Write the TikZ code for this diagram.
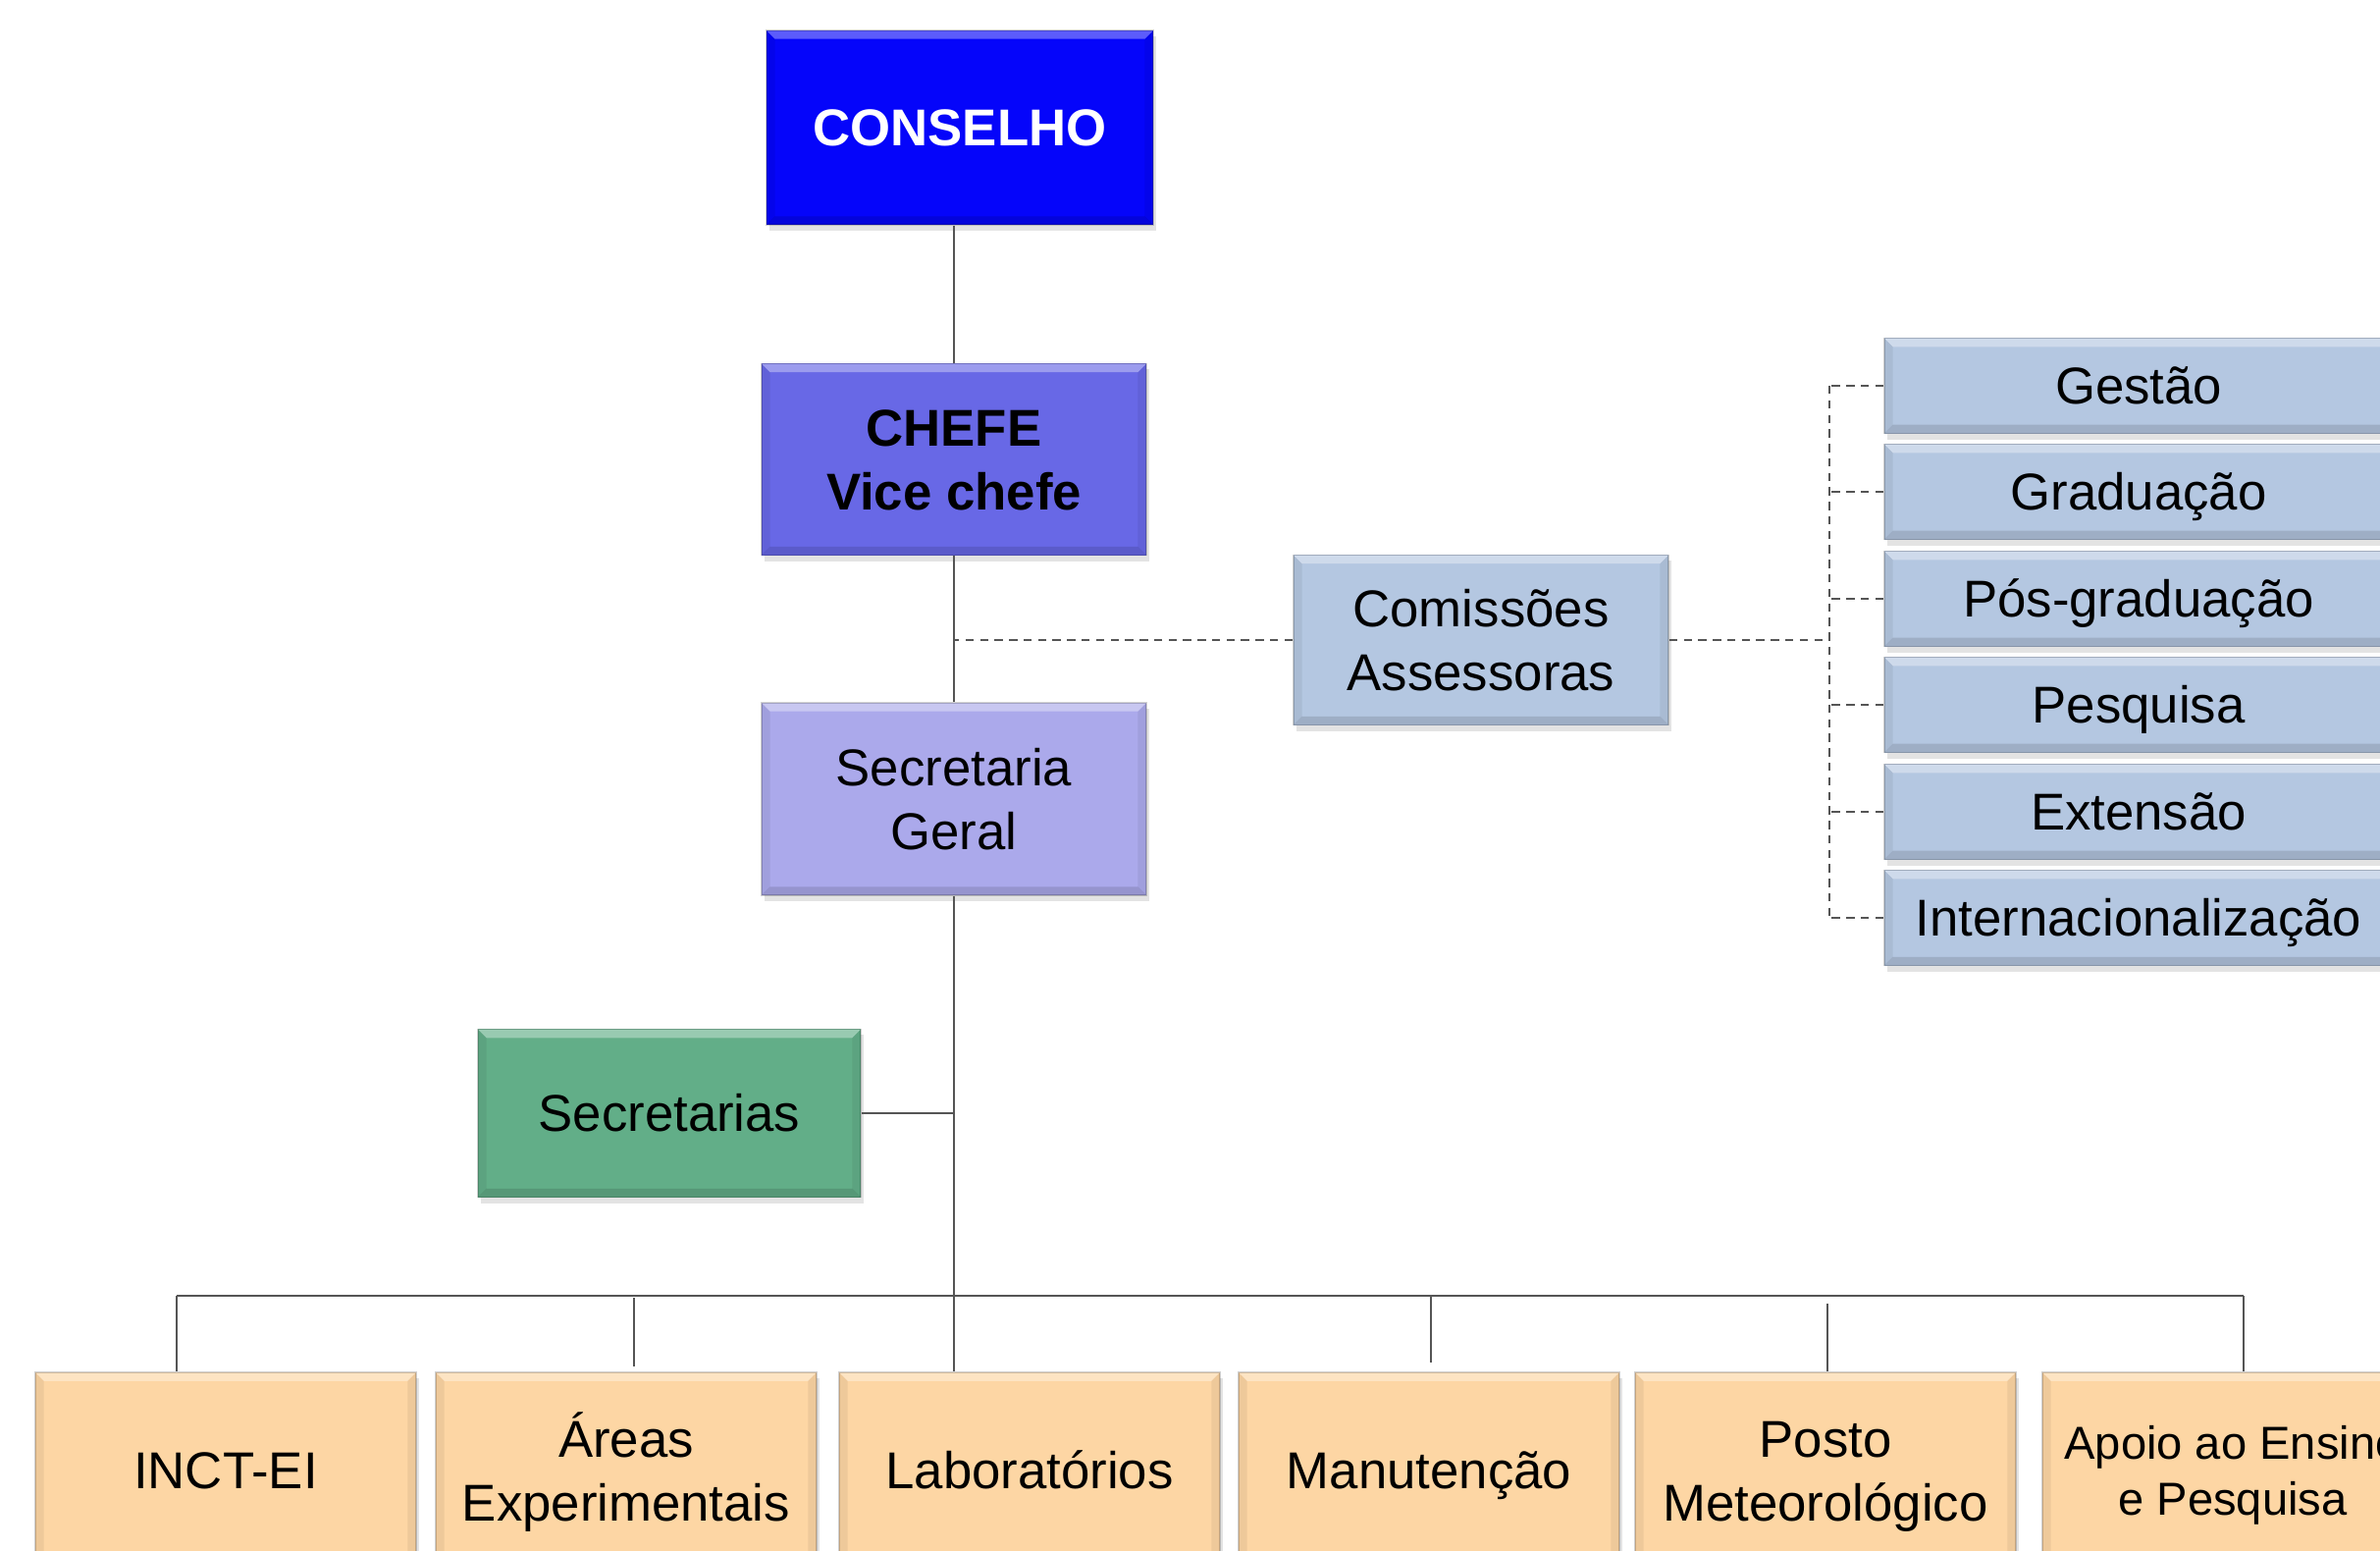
\documentclass[tikz,border=0pt]{standalone}
\usepackage{fontspec}
\setmainfont{Liberation Sans}
\usetikzlibrary{shadows}
\definecolor{cCons}{RGB}{5,5,250}
\definecolor{cChefe}{RGB}{104,104,230}
\definecolor{cSG}{RGB}{171,169,235}
\definecolor{cCom}{RGB}{180,199,225}
\definecolor{cSecs}{RGB}{98,174,136}
\definecolor{cBot}{RGB}{253,214,164}
\definecolor{cLine}{RGB}{85,85,85}
\newcommand\tl[1]{\rule{0pt}{0.716em}\smash{#1}}
\tikzset{
  box/.style={rectangle, inner sep=0pt, align=center,
    font=\fontsize{15}{18.5}\selectfont, text=black,
    draw=black, draw opacity=0.18, line width=0.4pt,
    drop shadow={opacity=0.22, shadow xshift=0.03cm, shadow yshift=-0.06cm},
    path picture={
      \fill[white,opacity=0.35] (path picture bounding box.north west) -- (path picture bounding box.north east)
        -- ([xshift=-2.5pt,yshift=-2.5pt]path picture bounding box.north east)
        -- ([xshift=2.5pt,yshift=-2.5pt]path picture bounding box.north west) -- cycle;
      \fill[black,opacity=0.12] (path picture bounding box.south west) -- (path picture bounding box.south east)
        -- ([xshift=-2.5pt,yshift=2.5pt]path picture bounding box.south east)
        -- ([xshift=2.5pt,yshift=2.5pt]path picture bounding box.south west) -- cycle;
      \fill[black,opacity=0.06] (path picture bounding box.north west) -- ([xshift=2.5pt,yshift=-2.5pt]path picture bounding box.north west)
        -- ([xshift=2.5pt,yshift=2.5pt]path picture bounding box.south west) -- (path picture bounding box.south west) -- cycle;
      \fill[black,opacity=0.06] (path picture bounding box.north east) -- ([xshift=-2.5pt,yshift=-2.5pt]path picture bounding box.north east)
        -- ([xshift=-2.5pt,yshift=2.5pt]path picture bounding box.south east) -- (path picture bounding box.south east) -- cycle;
    }},
  comm/.style={box, fill=cCom, minimum width=5.18cm, minimum height=0.97cm},
  unit/.style={box, fill=cBot, minimum width=3.88cm, minimum height=2.00cm},
  link/.style={draw=cLine, line width=0.6pt},
  dlink/.style={draw=cLine, line width=0.6pt, dash pattern=on 2.4pt off 1.8pt},
}
\begin{document}
\begin{tikzpicture}[x=0.01cm, y=-0.01cm]
\useasboundingbox (0,0) rectangle (2425,1579);
\clip (0,0) rectangle (2425,1579);

% main chain
\node[box, fill=cCons, minimum width=3.94cm, minimum height=1.98cm, text=white, font=\fontsize{15}{18.5}\selectfont\bfseries] (cons) at (978,130) {\tl{CONSELHO}};
\node[box, fill=cChefe, minimum width=3.92cm, minimum height=1.95cm, font=\fontsize{15}{18.5}\selectfont\bfseries] (chefe) at (972,468) {\tl{CHEFE}\\\tl{Vice chefe}};
\node[box, fill=cSG, minimum width=3.92cm, minimum height=1.96cm] (sg) at (972,814) {\tl{Secretaria}\\\tl{Geral}};
\node[box, fill=cCom, minimum width=3.82cm, minimum height=1.73cm] (com) at (1509,652) {\tl{Comissões}\\\tl{Assessoras}};
\node[box, fill=cSecs, minimum width=3.90cm, minimum height=1.71cm] (secs) at (682,1134) {\tl{Secretarias}};

% commissions
\node[comm] (g1) at (2179,393) {\tl{Gestão}};
\node[comm] (g2) at (2179,501) {\tl{Graduação}};
\node[comm] (g3) at (2179,610) {\tl{Pós-graduação}};
\node[comm] (g4) at (2179,718) {\tl{Pesquisa}};
\node[comm] (g5) at (2179,827) {\tl{Extensão}};
\node[comm] (g6) at (2179,935) {\tl{Internacionalização}};

% bottom units
\node[unit] (inct) at (230,1498) {\tl{INCT-EI}};
\node[unit] (areas) at (638,1498) {\tl{Áreas}\\\tl{Experimentais}};
\node[unit] (lab) at (1049,1498) {\tl{Laboratórios}};
\node[unit] (manut) at (1456,1498) {\tl{Manutenção}};
\node[unit] (posto) at (1860,1498) {\tl{Posto}\\\tl{Meteorológico}};
\node[unit, font=\fontsize{13.4}{16.2}\selectfont] (apoio) at (2275,1498) {\tl{Apoio ao Ensino}\\\tl{e Pesquisa}};

% coordinates
\coordinate (rbx) at (1864,0);
\coordinate (busL) at (180,1320);
\coordinate (busR) at (2286,1320);
\coordinate (jA) at (646,1322);
\coordinate (jM) at (1458,1320);
\coordinate (jP) at (1862,1328);
\coordinate (eA) at (646,1392);
\coordinate (eM) at (1458,1388);
\coordinate (eP) at (1862,1397);

% solid connectors
\draw[link] (chefe.north) -- (chefe.north |- cons.south);
\draw[link] (chefe.south) -- (sg.north);
\draw[link] (sg.south) -- (sg.south |- lab.north);
\draw[link] (secs.east) -- (secs.east -| sg.south);
\draw[link] (busL) -- (busR);
\draw[link] (busL) -- (busL |- inct.north);
\draw[link] (busR) -- (busR |- apoio.north);
\draw[link] (jA) -- (eA);
\draw[link] (jM) -- (eM);
\draw[link] (jP) -- (eP);

% dashed connectors
\draw[dlink] (com.west) -- (com.west -| sg.north);
\draw[dlink] (com.east) -- (com.east -| rbx);
\draw[dlink] (rbx |- g1.west) -- (rbx |- g6.west);
\foreach \g in {g1,g2,g3,g4,g5,g6}{
  \draw[dlink] (\g.west) -- (\g.west -| rbx);
}
\end{tikzpicture}
\end{document}
